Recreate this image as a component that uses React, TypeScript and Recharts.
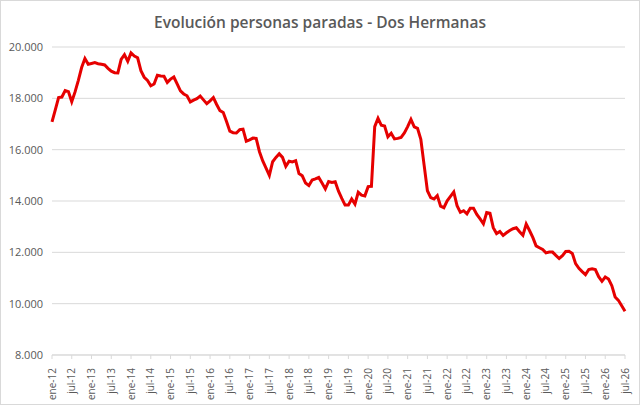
import React from 'react';
import { LineChart, Line, XAxis, YAxis, CartesianGrid } from 'recharts';

const startYear = 2012;
const monthNames = ['ene', 'feb', 'mar', 'abr', 'may', 'jun', 'jul', 'ago', 'sep', 'oct', 'nov', 'dic'];

// personas paradas, mensual desde ene-12 hasta jul-26
const parados = [
    17080, 17550, 18030, 18050, 18300, 18260, 17870, 18250, 18700, 19200, 19550, 19330,
    19360, 19390, 19350, 19330, 19300, 19170, 19060, 19000, 18990, 19520, 19700, 19440,
    19770, 19650, 19580, 19080, 18820, 18700, 18490, 18560, 18900, 18870, 18860, 18620,
    18750, 18830, 18560, 18290, 18170, 18100, 17860, 17930, 17990, 18090, 17940, 17790,
    17900, 18030, 17760, 17520, 17450, 17100, 16720, 16660, 16650, 16780, 16800, 16330,
    16380, 16450, 16440, 15920, 15560, 15280, 15000, 15530, 15700, 15840, 15700, 15350,
    15550, 15520, 15570, 15070, 14980, 14700, 14600, 14820, 14860, 14920, 14700, 14470,
    14760, 14720, 14750, 14380, 14100, 13840, 13840, 14080, 13880, 14340, 14230, 14200,
    14560, 14570, 16900, 17220, 16950, 16920, 16500, 16640, 16420, 16440, 16480, 16650,
    16900, 17180, 16890, 16830, 16400, 15400, 14400, 14130, 14080, 14210, 13800, 13740,
    14010, 14180, 14350, 13820, 13560, 13620, 13500, 13720, 13720, 13480, 13300, 13110,
    13550, 13520, 12960, 12730, 12810, 12660, 12760, 12850, 12920, 12960, 12800, 12660,
    13100, 12850, 12580, 12250, 12180, 12110, 11980, 12010, 12010, 11880, 11760, 11870,
    12030, 12040, 11960, 11560, 11380, 11250, 11130, 11330, 11360, 11330, 11050, 10870,
    11040, 10960, 10700, 10260, 10130, 9920, 9700,
];

const meses = parados.map((_, i) => {
    const year = startYear + Math.floor(i / 12);
    return `${monthNames[i % 12]}-${String(year).slice(2)}`;
});

const yTicks = [8000, 10000, 12000, 14000, 16000, 18000, 20000];

const data = meses.map((mes, i) => ({ mes, parados: parados[i] }));

const fmt = (v: number) => String(v).replace(/^(\d{1,2})(\d{3})$/, '$1.$2');

const XTick = (props: any) => {
    const { x, y, payload } = props;
    return (
        <text
            x={x}
            y={y + 7}
            transform={`rotate(-90, ${x}, ${y + 7})`}
            textAnchor="end"
            dy="0.35em"
            fontSize={10}
            fill="#595959"
            fontFamily="'Open Sans', sans-serif"
        >
            {payload.value}
        </text>
    );
};

export default function App() {
    return (
        <div
            style={{
                position: 'absolute',
                left: 0,
                top: 0,
                width: 640,
                height: 405,
                boxSizing: 'border-box',
                border: '1px solid #d9d9d9',
                background: '#fff',
                fontFamily: "'Open Sans', sans-serif",
            }}
        >
            <div
                style={{
                    position: 'absolute',
                    top: 10,
                    left: 0,
                    width: '100%',
                    textAlign: 'center',
                    fontSize: 15.5,
                    fontWeight: 600,
                    color: '#595959',
                }}
            >
                Evolución personas paradas - Dos Hermanas
            </div>
            <div style={{ position: 'absolute', left: -1, top: -1 }}>
                <LineChart width={640} height={405} data={data} margin={{ top: 47, right: 15, bottom: 0, left: 0 }}>
                    <CartesianGrid vertical={false} stroke="#d9d9d9" />
                    <XAxis
                        dataKey="mes"
                        interval={5}
                        height={50}
                        tick={<XTick />}
                        tickSize={4}
                        stroke="#d9d9d9"
                        tickLine={{ stroke: '#d9d9d9' }}
                    />
                    <YAxis
                        domain={[8000, 20000]}
                        ticks={yTicks}
                        width={52}
                        axisLine={false}
                        tickLine={false}
                        tickSize={0}
                        tickMargin={9}
                        tickFormatter={fmt}
                        tick={{ fontSize: 11, fill: '#595959', fontFamily: "'Open Sans', sans-serif" }}
                    />
                    <Line
                        type="linear"
                        dataKey="parados"
                        stroke="#e60000"
                        strokeWidth={3}
                        dot={false}
                        isAnimationActive={false}
                    />
                </LineChart>
            </div>
        </div>
    );
}
